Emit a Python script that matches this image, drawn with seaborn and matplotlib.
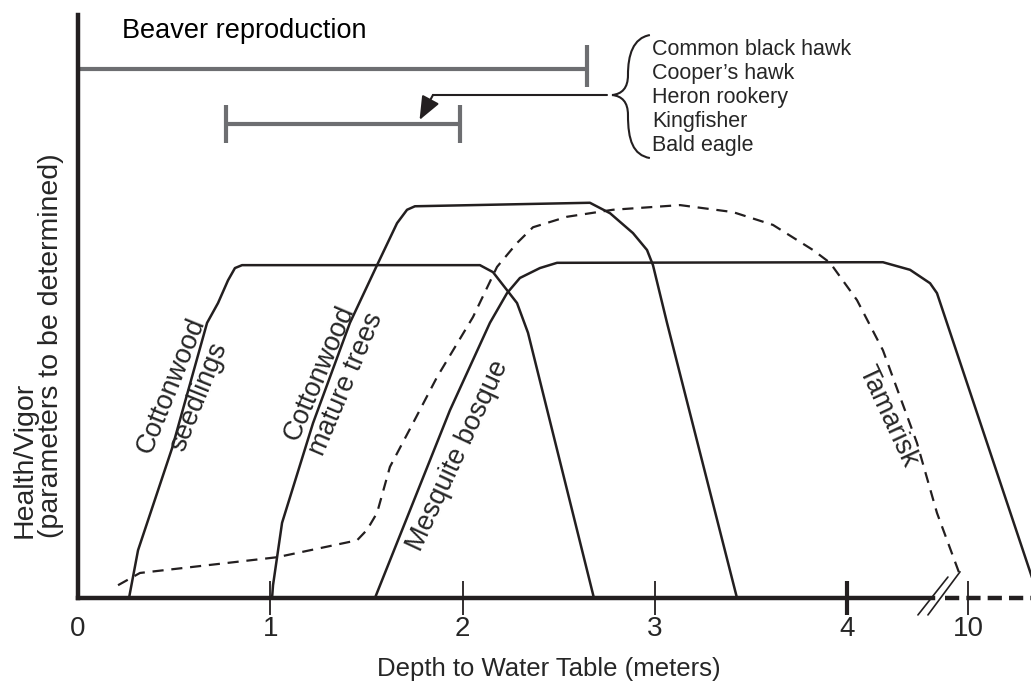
import seaborn as sns
import matplotlib.pyplot as plt
from matplotlib.path import Path
from matplotlib.patches import PathPatch

# depth axis is broken after 4 m: positions 0-4 are metres, last tick (10 m) sits after the break
tick_pos = [0, 1, 2, 3, 4, 4.628]
tick_labels = ["0", "1", "2", "3", "4", "10"]

# health / vigor curves (0-100, arbitrary units)
seedlings_x = [0.265, 0.312, 0.489, 0.671, 0.728, 0.780, 0.816, 0.853, 2.090, 2.158, 2.283, 2.340, 2.683]
seedlings_y = [0, 8.2, 25.7, 47.2, 50.6, 54.5, 56.6, 57.1, 57.1, 55.9, 50.6, 45.5, 0]

mature_x = [1.009, 1.014, 1.061, 1.222, 1.414, 1.555, 1.659, 1.711, 1.752, 2.662, 2.767, 2.886, 2.959, 2.990, 3.063, 3.427]
mature_y = [0, 2.2, 12.9, 30.0, 47.2, 57.1, 64.3, 66.6, 67.2, 67.8, 66.0, 62.6, 59.7, 57.1, 47.2, 0]

mesquite_x = [1.544, 1.934, 2.142, 2.231, 2.298, 2.402, 2.491, 4.067, 4.186, 4.327, 4.431, 4.467, 4.997]
mesquite_y = [0, 32.2, 47.2, 52.3, 54.9, 56.6, 57.5, 57.6, 57.6, 56.3, 54.0, 52.3, 0]

tamarisk_x = [0.208, 0.322, 1.035, 1.451, 1.503, 1.555, 1.622, 1.742, 1.867, 2.054, 2.179, 2.283, 2.366,
              2.543, 2.782, 3.131, 3.406, 3.614, 3.822, 3.911, 4.051, 4.186, 4.363, 4.467, 4.587]
tamarisk_y = [2.2, 4.3, 7.0, 9.9, 11.7, 14.6, 22.5, 30.0, 37.9, 48.2, 56.8, 60.9, 63.6,
              65.4, 66.6, 67.4, 66.2, 64.0, 59.7, 57.5, 51.1, 42.5, 26.6, 14.6, 3.9]

# depth ranges for wildlife use
beaver_range = [0, 2.647]
birds_range = [0.770, 1.986]
birds = ["Common black hawk", "Cooper\u2019s hawk", "Heron rookery", "Kingfisher", "Bald eagle"]

sns.set_style("white")
plt.rcParams["font.family"] = ["Liberation Sans", "DejaVu Sans"]

ink = "#231f20"
grey = "#6d6e71"

fig = plt.figure(figsize=(10.31, 6.87), dpi=100)
ax = fig.add_axes([0.0757, 0.1295, 0.9243, 0.8486])

for xs, ys in [(seedlings_x, seedlings_y), (mature_x, mature_y), (mesquite_x, mesquite_y)]:
    sns.lineplot(x=xs, y=ys, sort=False, estimator=None, color=ink, lw=1.8, ax=ax)
sns.lineplot(x=tamarisk_x, y=tamarisk_y, sort=False, estimator=None, color=ink, lw=1.6,
             linestyle=(0, (5, 3.5)), ax=ax)

# range bars
sns.lineplot(x=beaver_range, y=[90.7, 90.7], color=grey, lw=3.0, ax=ax)
ax.plot(beaver_range[1:], [91.3], marker="|", ms=30, mew=3, color=grey)
sns.lineplot(x=birds_range, y=[81.3, 81.3], color=grey, lw=3.0, ax=ax)
ax.plot(birds_range, [81.3, 81.3], ls="none", marker="|", ms=28, mew=3, color=grey)

ax.text(0.229, 96.1, "Beaver reproduction", fontsize=19.5, va="baseline", color="black")

# brace + bird list
brace = Path([(2.974, 96.57), (2.886, 96.05), (2.860, 93.14), (2.860, 89.71),
              (2.860, 87.48), (2.829, 86.45), (2.777, 86.28),
              (2.829, 86.11), (2.860, 85.08), (2.860, 82.85),
              (2.860, 78.56), (2.886, 75.99), (2.974, 75.47)],
             [Path.MOVETO] + [Path.CURVE4] * 12)
ax.add_patch(PathPatch(brace, fc="none", ec=ink, lw=1.5))
for i, name in enumerate(birds):
    ax.text(2.985, 93.1 - i * 4.1, name, fontsize=15.5, va="baseline")

ax.plot([2.751, 1.846], [86.3, 86.3], color=ink, lw=1.5)
ax.annotate("", xy=(1.776, 82.0), xytext=(1.846, 86.3),
            arrowprops=dict(arrowstyle="-|>,head_length=1.1,head_width=0.45",
                            color=ink, lw=1.5, mutation_scale=13, shrinkA=0, shrinkB=0))

# curve labels
lab = dict(fontsize=19.5, ha="center", va="center", rotation_mode="anchor")
ax.text(0.555, 35.5, "Cottonwood\nseedlings", rotation=68, linespacing=1.15, **lab)
ax.text(1.326, 37.7, "Cottonwood\nmature trees", rotation=67, linespacing=1.15, **lab)
ax.text(1.976, 24.4, "Mesquite bosque", rotation=65, **lab)
ax.text(4.212, 31.2, "Tamarisk", rotation=-65, **lab)

# axes and broken depth axis
ax.set_xlim(0, 4.956)
ax.set_ylim(0, 100)
ax.set_yticks([])
ax.set_xticks(tick_pos, tick_labels, fontsize=20)
ax.tick_params(axis="x", bottom=True, direction="inout", length=24, width=1.3, pad=1, color=ink)
ax.xaxis.get_major_ticks()[0].tick1line.set_visible(False)
ax.xaxis.get_major_ticks()[4].tick1line.set_markeredgewidth(3)
sns.despine(ax=ax)
for side in ["left", "bottom"]:
    ax.spines[side].set_linewidth(3.2)
    ax.spines[side].set_color(ink)
ax.spines["bottom"].set_bounds(0, 4.446)
ax.plot([4.51, 4.956], [0, 0], color=ink, lw=3.2, linestyle=(0, (3.2, 1.6)), clip_on=False,
        solid_capstyle="butt")
ax.plot([4.368, 4.524], [-2.9, 3.6], color=ink, lw=1.2, clip_on=False)
ax.plot([4.420, 4.587], [-2.9, 4.5], color=ink, lw=1.2, clip_on=False)

ax.set_xlabel("Depth to Water Table (meters)", fontsize=18.5, va="center")
ax.xaxis.set_label_coords(0.494, -0.122)
ax.set_ylabel("Health/Vigor\n(parameters to be determined)", fontsize=20.5,
              ha="left", va="center", multialignment="left", linespacing=1.0)
ax.yaxis.set_label_coords(-0.042, 0.103)

fig.savefig("out.png", dpi=100)
